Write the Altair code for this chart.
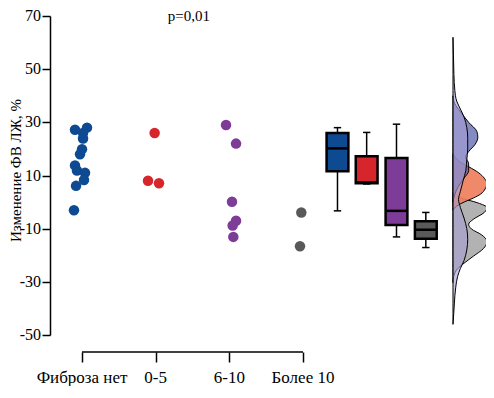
import altair as alt
import pandas as pd

# ---------------- data ----------------
groups = ["Фиброза нет", "0-5", "6-10", "Более 10"]
colors = ["#0e4a92", "#d7262b", "#7d3c98", "#595959"]
y_ticks = [-50, -30, -10, 10, 30, 50, 70]

vals_none = [27.2, 28.0, 26.0, 23.9, 19.9, 18.0, 13.8, 11.9, 11.0, 8.3, 6.1, -3.1]
jit_none = [-0.095, 0.068, 0.014, 0.014, 0.0, -0.027, -0.095, -0.068, 0.041, 0.027, -0.081, -0.109]
vals_05 = [26.0, 8.0, 7.1]
jit_05 = [-0.014, -0.104, 0.045]
vals_610 = [29.0, 22.0, 0.1, -7.0, -8.8, -13.1]
jit_610 = [-0.045, 0.091, 0.036, 0.091, 0.045, 0.054]
vals_10 = [-3.9, -16.6]
jit_10 = [-0.023, -0.041]

# box summaries (lower whisker, q1, median, q3, upper whisker)
box_lo = [-3.3, 6.8, -13.1, -17.1]
box_q1 = [11.6, 7.1, -8.6, -13.8]
box_med = [20.2, 7.4, -3.3, -10.4]
box_q3 = [26.0, 17.2, 16.6, -7.2]
box_hi = [28.0, 26.2, 29.3, -3.9]

# density outlines: value -> relative width
dens_none_v = [40, 37, 34.5, 30, 26.5, 24.3, 21.7, 19, 17, 14.4, 11.8, 9, 6, 3, 0]
dens_none_w = [0, 2, 7, 17, 26, 27, 24, 17, 14, 17, 17, 12, 6, 2, 0]
dens_05_v = [18, 15, 13.3, 11, 9, 7, 5, 3, 1.5, 0, -1.5, -3]
dens_05_w = [0, 8, 17, 28, 34, 37, 35, 30, 22, 12, 4, 0]
dens_610_v = [62, 55, 48, 42, 38, 35, 32, 28, 24, 20, 16, 12, 8, 4, 1, -2, -6, -10,
              -14, -18, -22, -25, -28, -32, -38, -42, -46]
dens_610_w = [0, 0.5, 1, 2, 4, 8, 12, 15, 16, 16, 15, 14, 11, 8, 6, 8, 12, 15,
              16, 15, 12, 8, 5, 3, 1.5, 0.8, 0]
dens_10_v = [3.5, 1.6, -0.3, -2.1, -3.9, -6.5, -8.3, -10.1, -12.3, -14.9, -17.5,
             -20.4, -23, -25.1, -27.7, -30.3]
dens_10_w = [0, 8, 27, 37, 34, 22, 17, 20, 31, 37, 33, 22, 12, 5, 1, 0]

dens_fill = ["#5a64ad", "#ee7f5c", "#a99fd4", "#a4a4a4"]
dens_opacity = [0.75, 0.92, 0.6, 0.85]

p_text = "p=0,01"
y_title = "Изменение ФВ ЛЖ, %"

# ---------------- layout constants ----------------
FONT = "Liberation Serif"
W, H = 436, 319
UNIT = 73.67
box_x = [4.468, 4.864, 5.269, 5.667]
dens_base = 6.036
dens_scale = 0.92 / UNIT

xs = alt.Scale(domain=[0.5656, 6.484], nice=False, zero=False)
ys = alt.Scale(domain=[-50, 70], nice=False, zero=False)

x_axis = alt.Axis(values=[1, 2, 3, 4], labels=False, domain=False,
                  tickSize=10, tickWidth=1.5, tickColor="black", offset=17,
                  grid=False, title=None)
y_axis = alt.Axis(values=y_ticks, labels=False, tickSize=8, tickWidth=1.5,
                  tickColor="black", domainColor="black", domainWidth=1.5,
                  grid=False, title=y_title, titleFont=FONT,
                  titleFontSize=15, titleFontWeight="normal", titleColor="black",
                  titleX=-30, titleY=154, titleAngle=-90, titleBaseline="alphabetic",
                  titleAlign="center")


def X(field, **kw):
    return alt.X(field, type="quantitative", scale=xs, axis=x_axis, **kw)


def Y(field, **kw):
    return alt.Y(field, type="quantitative", scale=ys, axis=y_axis, **kw)


# scatter data
rows = []
for gi, (vals, jit) in enumerate([(vals_none, jit_none), (vals_05, jit_05),
                                  (vals_610, jit_610), (vals_10, jit_10)]):
    for v, j in zip(vals, jit):
        rows.append({"group": groups[gi], "gx": gi + 1 + j, "v": v})
pts = pd.DataFrame(rows)

color_scale = alt.Scale(domain=groups, range=colors)

scatter = alt.Chart(pts).mark_circle(size=110, opacity=1).encode(
    x=X("gx"), y=Y("v"),
    color=alt.Color("group:N", scale=color_scale, legend=None),
)

box_df = pd.DataFrame({
    "group": groups, "cx": box_x, "lo": box_lo, "q1": box_q1, "med": box_med,
    "q3": box_q3, "hi": box_hi,
})
box_df["l"] = box_df["cx"] - 0.148
box_df["r"] = box_df["cx"] + 0.148
box_df["cl"] = box_df["cx"] - 0.05
box_df["cr"] = box_df["cx"] + 0.05

bbase = alt.Chart(box_df)
whisk_up = bbase.mark_rule(color="black", strokeWidth=1.5).encode(x=X("cx"), y=Y("q3"), y2="hi")
whisk_dn = bbase.mark_rule(color="black", strokeWidth=1.5).encode(x=X("cx"), y=Y("lo"), y2="q1")
cap_up = bbase.mark_rule(color="black", strokeWidth=1.5).encode(x=X("cl"), x2="cr", y=Y("hi"))
cap_dn = bbase.mark_rule(color="black", strokeWidth=1.5).encode(x=X("cl"), x2="cr", y=Y("lo"))
boxes = bbase.mark_rect(stroke="black", strokeWidth=2.5).encode(
    x=X("l"), x2="r", y=Y("q1"), y2="q3",
    color=alt.Color("group:N", scale=color_scale, legend=None),
)
medians = bbase.mark_rule(color="black", strokeWidth=2.5).encode(x=X("l"), x2="r", y=Y("med"))

# densities (half violins)
dens_data = [(dens_none_v, dens_none_w), (dens_05_v, dens_05_w),
             (dens_610_v, dens_610_w), (dens_10_v, dens_10_w)]
order = [3, 1, 0, 2]
dens_layers = []
for gi in order:
    vv, ww = dens_data[gi]
    d = pd.DataFrame({"v": vv, "w": ww})
    d["x1"] = dens_base
    d["x2"] = dens_base + d["w"] * dens_scale
    layer = alt.Chart(d).mark_area(
        orient="horizontal", interpolate="monotone", fill=dens_fill[gi],
        fillOpacity=dens_opacity[gi], stroke="black", strokeWidth=1,
    ).encode(y=Y("v"), x=X("x1"), x2="x2:Q")
    dens_layers.append(layer)

xline = alt.Chart(pd.DataFrame({"a": [1], "b": [4]})).mark_rule(
    color="black", strokeWidth=1.5).encode(x=X("a"), x2="b", y=alt.value(H + 17))

# tick labels as serif text
xlab = alt.Chart(pd.DataFrame({"pos": [1, 2, 3, 4], "lab": groups})).mark_text(
    font=FONT, fontSize=17, color="black", baseline="top", align="center"
).encode(x=X("pos"), y=alt.value(H + 17 + 10 + 8), text="lab:N")

ylab = alt.Chart(pd.DataFrame({"val": y_ticks, "lab": [str(t) for t in y_ticks]})).mark_text(
    font=FONT, fontSize=16, color="black", baseline="middle", align="right"
).encode(y=Y("val"), x=alt.value(-9), text="lab:N")

ptxt = alt.Chart(pd.DataFrame({"t": [p_text], "px": [2.45]})).mark_text(
    font=FONT, fontSize=15, color="black").encode(x=X("px"), y=alt.value(0), text="t:N")

chart = alt.layer(
    xline, scatter, whisk_up, whisk_dn, cap_up, cap_dn, boxes, medians,
    *dens_layers, xlab, ylab, ptxt
).properties(
    width=W, height=H,
    autosize=alt.AutoSizeParams(type="none"),
    padding={"left": 42, "top": 8, "right": 0, "bottom": 51},
).configure_view(stroke=None)

chart.save("out.html", embed_options={"renderer": "svg", "actions": False})
